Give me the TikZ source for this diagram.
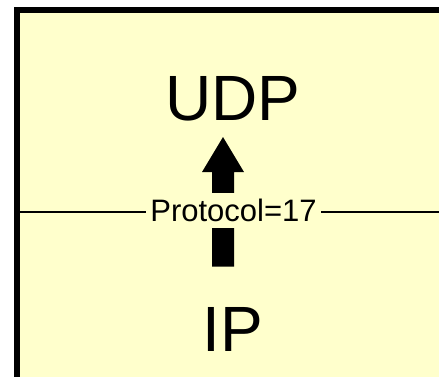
\documentclass[tikz,border=0pt]{standalone}
\usepackage{fontspec}
\setmainfont{Liberation Sans}
\usetikzlibrary{calc}
\definecolor{paleyellow}{HTML}{FFFFCC}
\tikzset{
  layerlabel/.style={anchor=base, inner sep=0pt, font=\fontsize{64}{64}\selectfont},
  fieldlabel/.style={fill=paleyellow, inner sep=0pt, text height=29pt, text depth=6pt,
                     minimum width=175pt, font=\fontsize{31}{31}\selectfont},
  frame/.style={draw=black, line width=6pt, fill=paleyellow},
  divider/.style={draw=black, line width=1.3pt},
  bigarrow/.style={fill=black, draw=none}
}
\begin{document}
\begin{tikzpicture}[x=1pt, y=-1pt]
  \useasboundingbox (0,0) rectangle (439,376);
  \clip (0,0) rectangle (439,376);
  % layer box, running off the right and bottom edges
  \path[frame] (17,9.7) rectangle (470,400);
  % boundary between the two layers
  \coordinate (divL) at (14,212);
  \coordinate (divR) at (450,212);
  \draw[divider] (divL) -- (divR);
  % layer names
  \node[layerlabel] (udp) at (233,120.7) {UDP};
  \node[layerlabel] (ip) at (233,351) {IP};
  % demultiplexing arrow from IP up to UDP
  \coordinate (tail) at (223,266.7);
  \coordinate (tip) at (223,137);
  \path[bigarrow] (tip) -- ++(21,35) -- ++(-10,0) -- ($(tail)+(11,0)$)
        -- ($(tail)+(-11,0)$) -- ($(tip)+(-11,35)$) -- ++(-10,0) -- cycle;
  % field value, set over the arrow and the divider
  \node[fieldlabel] (proto) at (233.5,210.2) {Protocol=17};
\end{tikzpicture}
\end{document}
